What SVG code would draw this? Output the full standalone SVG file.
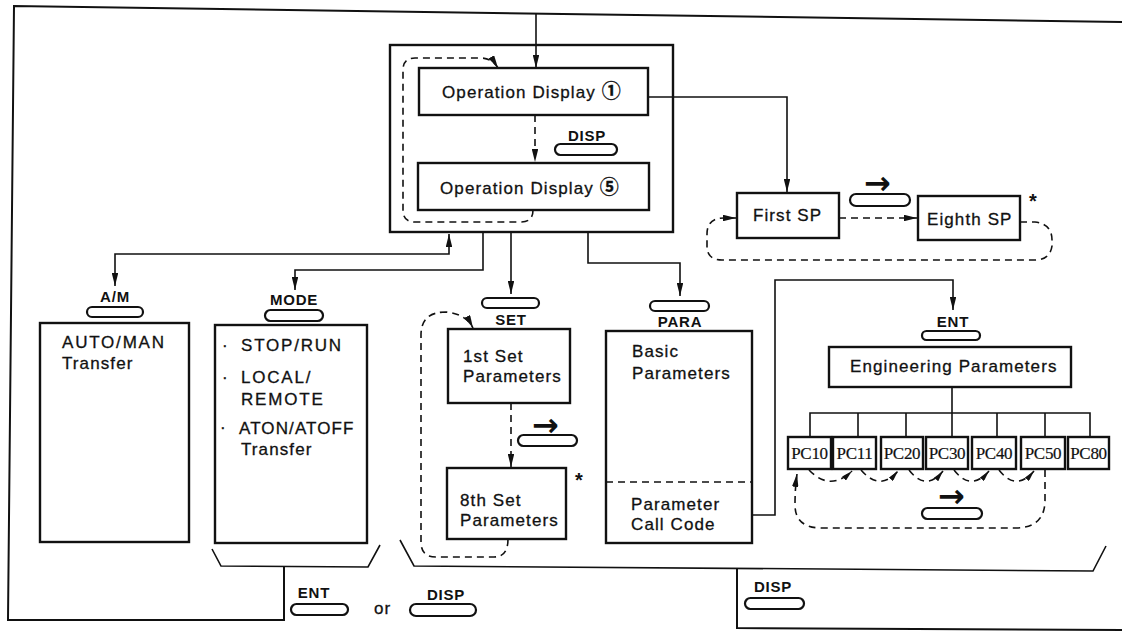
<svg xmlns="http://www.w3.org/2000/svg" width="1122" height="631" viewBox="0 0 1122 631">
<defs>
  <marker id="ah" viewBox="0 0 12 6" refX="12" refY="3" markerWidth="13" markerHeight="6.5" markerUnits="userSpaceOnUse" orient="auto-start-reverse">
    <path d="M0,0 L12,3 L0,6 z" fill="#111"/>
  </marker>
  <marker id="ahs" viewBox="0 0 10 5" refX="10" refY="2.5" markerWidth="11" markerHeight="5.5" markerUnits="userSpaceOnUse" orient="auto">
    <path d="M0,0 L10,2.5 L0,5 z" fill="#111"/>
  </marker>
</defs>
<style>
  .box { fill: #fff; stroke: #111; stroke-width: 2.4; }
  .frame { fill: none; stroke: #111; stroke-width: 2; }
  .ln { fill: none; stroke: #111; stroke-width: 1.6; }
  .dash { fill: none; stroke: #111; stroke-width: 1.6; stroke-dasharray: 7 5; }
  .key { fill: #fff; stroke: #111; stroke-width: 2.2; }
  .t { font-family: "Liberation Sans", Arial, "Noto Sans CJK JP", sans-serif; font-size: 17px; letter-spacing: 1.1px; fill: #111; stroke: #111; stroke-width: 0.3; }
  .caps { letter-spacing: 1.8px; }
  .num { font-size: 19px; font-weight: bold; letter-spacing: 0; }
  .k { font-family: "Liberation Sans", Arial, sans-serif; font-size: 15px; font-weight: bold; letter-spacing: 0.8px; text-anchor: middle; fill: #111; }
  .pc { font-family: "Liberation Serif", "Times New Roman", serif; font-size: 17px; letter-spacing: -0.3px; text-anchor: middle; fill: #111; stroke: #111; stroke-width: 0.2; }
  .arw { font-family: "DejaVu Sans", sans-serif; font-size: 32px; font-weight: bold; fill: #111; }
  .ast { font-family: "Liberation Sans", Arial, sans-serif; font-size: 20px; font-weight: bold; fill: #111; }
</style>
<rect width="1122" height="631" fill="#fff"/>

<!-- return paths and brackets framing the whole flow -->
<g id="frame">
  <polyline class="frame" points="284,567 284,620 8,620 14,6 1122,22"/>
  <polyline class="ln" points="212,549 221,566 368,567 380,545"/>
  <polyline class="ln" points="400,540 414,566 1093,571 1106,546"/>
  <polyline class="frame" points="737,569 737,628 1122,630"/>
</g>

<!-- connectors -->
<g id="connectors">
  <line class="ln" x1="536" y1="14" x2="536" y2="68" marker-end="url(#ah)"/>
  <polyline class="ln" points="648,97 787,97 787,192" marker-end="url(#ah)"/>
  <line class="dash" x1="535" y1="115" x2="535" y2="162" marker-end="url(#ah)"/>
  <path class="dash" d="M533,210 Q533,222 521,222 L415,222 Q403,222 403,210 L403,70 Q403,58 415,58 L480,58 Q492,58 498,68" marker-end="url(#ah)"/>
  <line class="dash" x1="839" y1="218" x2="917" y2="218" marker-end="url(#ah)"/>
  <path class="dash" d="M1020,222 L1035,222 Q1052,224 1052,240 L1052,246 Q1050,260 1035,260 L722,260 Q707,260 707,246 L707,234 Q707,218 724,218 L736,218" marker-end="url(#ah)"/>
  <polyline class="ln" points="449,234 449,254 115,254 115,286" marker-start="url(#ah)" marker-end="url(#ah)"/>
  <polyline class="ln" points="483,232 483,270 295,270 295,290" marker-end="url(#ah)"/>
  <line class="ln" x1="511" y1="232" x2="511" y2="294" marker-end="url(#ah)"/>
  <polyline class="ln" points="588,232 588,263 680,263 680,296" marker-end="url(#ah)"/>
  <polyline class="ln" points="752,515 775,515 775,280 953,280 953,310" marker-end="url(#ah)"/>
  <line class="dash" x1="511" y1="403" x2="511" y2="467" marker-end="url(#ah)"/>
  <path class="dash" d="M508,539 Q508,557 494,557 L436,557 Q421,557 421,542 L421,335 Q421,312 446,312 Q466,314 473,328" marker-end="url(#ah)"/>
  <!-- engineering parameter tree -->
  <polyline class="ln" points="952,387 952,413"/>
  <polyline class="ln" points="810,437 810,413 1090,413 1090,437"/>
  <line class="ln" x1="858" y1="413" x2="858" y2="437"/>
  <line class="ln" x1="906" y1="413" x2="906" y2="437"/>
  <line class="ln" x1="952" y1="413" x2="952" y2="437"/>
  <line class="ln" x1="997" y1="413" x2="997" y2="437"/>
  <line class="ln" x1="1045" y1="413" x2="1045" y2="437"/>
  <!-- PC stepping arcs -->
  <path class="dash" d="M809,470 Q830,492 852,471" marker-end="url(#ahs)"/>
  <path class="dash" d="M861,470 Q880,492 898,471" marker-end="url(#ahs)"/>
  <path class="dash" d="M909,470 Q926,492 943,471" marker-end="url(#ahs)"/>
  <path class="dash" d="M954,470 Q971,492 989,471" marker-end="url(#ahs)"/>
  <path class="dash" d="M999,470 Q1016,492 1034,471" marker-end="url(#ahs)"/>
  <path class="dash" d="M1045,470 L1045,500 Q1045,528 1015,528 L822,528 Q795,528 795,505 Q795,488 797,474" marker-end="url(#ah)"/>
</g>

<!-- display group -->
<g id="display-group">
  <rect x="390" y="45" width="283" height="187" fill="none" stroke="#111" stroke-width="2.4"/>
</g>
<g id="op-display-1">
  <rect class="box" x="419" y="68" width="229" height="47"/>
  <text class="t" x="442" y="98">Operation Display <tspan class="num">①</tspan></text>
</g>
<g id="op-display-5">
  <rect class="box" x="418" y="163" width="231" height="47"/>
  <text class="t" x="440" y="194">Operation Display <tspan class="num">⑤</tspan></text>
</g>
<g id="key-disp-top">
  <text class="k" x="587" y="141">DISP</text>
  <rect class="key" x="555" y="144" width="62" height="11" rx="5.5"/>
</g>

<g id="first-sp">
  <rect class="box" x="737" y="193" width="102" height="45"/>
  <text class="t" x="753" y="221">First SP</text>
</g>
<g id="key-sp">
  <text class="arw" x="864" y="194">→</text>
  <rect class="key" x="850" y="194" width="60" height="12" rx="6"/>
</g>
<g id="eighth-sp">
  <rect class="box" x="918" y="196" width="102" height="44"/>
  <text class="t" x="927" y="225">Eighth SP</text>
  <text class="ast" x="1029" y="208">*</text>
</g>

<g id="auto-man">
  <text class="k" x="115" y="302">A/M</text>
  <rect class="key" x="87" y="307" width="56" height="10" rx="5"/>
  <rect class="box" x="40" y="323" width="149" height="219"/>
  <text class="t caps" x="62" y="348">AUTO/MAN</text>
  <text class="t" x="62" y="369">Transfer</text>
</g>

<g id="mode">
  <text class="k" x="294" y="305">MODE</text>
  <rect class="key" x="265" y="310" width="58" height="11" rx="5.5"/>
  <rect class="box" x="215" y="325" width="152" height="218"/>
  <text class="t" x="222" y="351">·</text>
  <text class="t caps" x="241" y="351">STOP/RUN</text>
  <text class="t" x="222" y="383">·</text>
  <text class="t caps" x="241" y="383">LOCAL/</text>
  <text class="t caps" x="241" y="405">REMOTE</text>
  <text class="t" x="220" y="433">·</text>
  <text class="t" x="239" y="434">ATON/ATOFF</text>
  <text class="t" x="241" y="455">Transfer</text>
</g>

<g id="set-params">
  <rect class="key" x="482" y="298" width="57" height="10" rx="5"/>
  <text class="k" x="511" y="325">SET</text>
  <rect class="box" x="448" y="329" width="122" height="74"/>
  <text class="t" x="463" y="362">1st Set</text>
  <text class="t" x="463" y="382">Parameters</text>
</g>
<g id="key-set-step">
  <text class="arw" x="532" y="436">→</text>
  <rect class="key" x="518" y="435" width="59" height="11" rx="5.5"/>
</g>
<g id="set-params-8">
  <rect class="box" x="447" y="468" width="119" height="71"/>
  <text class="t" x="460" y="506">8th Set</text>
  <text class="t" x="460" y="526">Parameters</text>
  <text class="ast" x="575" y="487">*</text>
</g>

<g id="para">
  <rect class="key" x="650" y="301" width="59" height="10" rx="5"/>
  <text class="k" x="680" y="327">PARA</text>
  <rect class="box" x="606" y="331" width="146" height="212"/>
  <text class="t" x="632" y="357">Basic</text>
  <text class="t" x="632" y="379">Parameters</text>
  <line class="dash" x1="606" y1="482" x2="752" y2="482"/>
  <text class="t" x="631" y="510">Parameter</text>
  <text class="t" x="631" y="530">Call Code</text>
</g>

<g id="engineering">
  <text class="k" x="953" y="327">ENT</text>
  <rect class="key" x="922" y="331" width="58" height="9" rx="4.5"/>
  <rect class="box" x="829" y="347" width="242" height="40"/>
  <text class="t" x="850" y="372">Engineering Parameters</text>
</g>

<g id="pc10"><rect class="box" x="788" y="437" width="43" height="32"/><text class="pc" x="809.5" y="459">PC10</text></g>
<g id="pc11"><rect class="box" x="833" y="437" width="43" height="32"/><text class="pc" x="854.5" y="459">PC11</text></g>
<g id="pc20"><rect class="box" x="881" y="437" width="42" height="32"/><text class="pc" x="902" y="459">PC20</text></g>
<g id="pc30"><rect class="box" x="926" y="437" width="42" height="32"/><text class="pc" x="947" y="459">PC30</text></g>
<g id="pc40"><rect class="box" x="972" y="437" width="44" height="32"/><text class="pc" x="994" y="459">PC40</text></g>
<g id="pc50"><rect class="box" x="1021" y="437" width="44" height="32"/><text class="pc" x="1043" y="459">PC50</text></g>
<g id="pc80"><rect class="box" x="1068" y="437" width="41" height="32"/><text class="pc" x="1088.5" y="459">PC80</text></g>
<g id="key-pc-step">
  <text class="arw" x="938" y="507">→</text>
  <rect class="key" x="922" y="508" width="60" height="11" rx="5.5"/>
</g>

<g id="exit-keys">
  <text class="k" x="314" y="598">ENT</text>
  <rect class="key" x="291" y="604" width="57" height="11" rx="5.5"/>
  <text class="t" x="374" y="614">or</text>
  <text class="k" x="446" y="600">DISP</text>
  <rect class="key" x="410" y="604" width="66" height="12" rx="6"/>
</g>
<g id="exit-disp">
  <text class="k" x="773" y="592">DISP</text>
  <rect class="key" x="745" y="598" width="59" height="11" rx="5.5"/>
</g>
</svg>
